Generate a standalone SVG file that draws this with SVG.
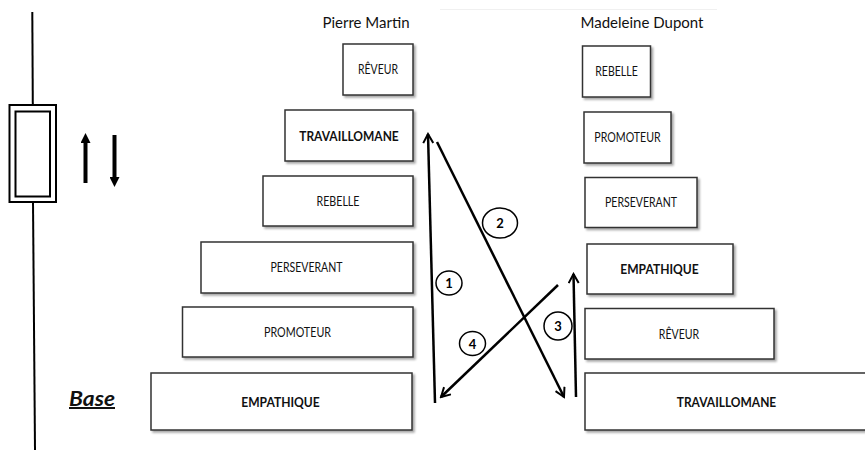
<svg xmlns="http://www.w3.org/2000/svg" width="865" height="450" viewBox="0 0 865 450">
  <defs>
    <filter id="sh" x="-10%" y="-10%" width="130%" height="140%">
      <feDropShadow dx="2" dy="2" stdDeviation="1.2" flood-color="#000" flood-opacity="0.35"/>
    </filter>
    <marker id="ah" viewBox="0 0 12 12" refX="10" refY="6" markerWidth="12" markerHeight="12" markerUnits="userSpaceOnUse" orient="auto">
      <path d="M1,1 L10,6 L1,11" fill="none" stroke="#000" stroke-width="2"/>
    </marker>
    <marker id="bh" viewBox="0 0 10 10" refX="5" refY="5" markerWidth="10" markerHeight="10" markerUnits="userSpaceOnUse" orient="auto">
      <path d="M0,0 L10,5 L0,10 Z" fill="#000"/>
    </marker>
  </defs>
  <style>
    .box { fill: #fff; stroke: #333; stroke-width: 1.5; filter: url(#sh); }
    .lbl { font-family: Lato, "Liberation Sans", sans-serif; font-size: 12.5px; fill: #111; text-anchor: middle; dominant-baseline: central; }
    .b { font-weight: bold; font-size: 13px; }
    .name { font-family: Lato, "Liberation Sans", sans-serif; font-size: 15px; fill: #111; text-anchor: middle; }
    .con { stroke: #000; stroke-width: 2.5; fill: none; marker-end: url(#ah); }
    .circ { fill: #fff; stroke: #000; stroke-width: 1.5; }
    .num { font-family: Lato, "Liberation Sans", sans-serif; font-size: 13px; font-weight: bold; fill: #000; text-anchor: middle; dominant-baseline: central; }
  </style>
  <rect width="865" height="450" fill="#fff"/>
  <line x1="440" y1="9.5" x2="717" y2="9.5" stroke="#f0f0f0" stroke-width="1"/>

  <g id="scale">
    <line x1="32.3" y1="12" x2="32.8" y2="105" stroke="#000" stroke-width="2"/>
    <line x1="33" y1="202" x2="35" y2="450" stroke="#000" stroke-width="2"/>
    <rect x="9.5" y="105" width="46.5" height="97" fill="#fff" stroke="#000" stroke-width="2"/>
    <rect x="15.5" y="111.5" width="34.5" height="85" fill="#fff" stroke="#000" stroke-width="2"/>
    <line x1="85.5" y1="183" x2="85.5" y2="138" stroke="#000" stroke-width="4" marker-end="url(#bh)"/>
    <line x1="114.5" y1="135" x2="114.5" y2="182" stroke="#000" stroke-width="4" marker-end="url(#bh)"/>
  </g>
  <g id="base-label">
    <text x="69" y="406" font-family="Lato, 'Liberation Sans', sans-serif" font-size="20" font-weight="bold" font-style="italic" text-decoration="underline" fill="#111" textLength="46" lengthAdjust="spacingAndGlyphs">Base</text>
  </g>

  <g id="pierre-title"><text class="name" x="366" y="28">Pierre Martin</text></g>
  <g id="madeleine-title"><text class="name" x="642" y="28">Madeleine Dupont</text></g>

  <g id="pm-reveur"><rect class="box" x="343" y="44" width="70" height="51"/><text class="lbl" x="378" y="69.5" textLength="40" lengthAdjust="spacingAndGlyphs">RÊVEUR</text></g>
  <g id="pm-travaillomane"><rect class="box" x="285" y="110" width="128" height="51"/><text class="lbl b" x="349" y="135.5" textLength="99.5" lengthAdjust="spacingAndGlyphs">TRAVAILLOMANE</text></g>
  <g id="pm-rebelle"><rect class="box" x="263" y="176" width="150" height="50"/><text class="lbl" x="338" y="201" textLength="43" lengthAdjust="spacingAndGlyphs">REBELLE</text></g>
  <g id="pm-perseverant"><rect class="box" x="201" y="242" width="212" height="51"/><text class="lbl" x="306.5" y="267.5" textLength="72" lengthAdjust="spacingAndGlyphs">PERSEVERANT</text></g>
  <g id="pm-promoteur"><rect class="box" x="182.5" y="307" width="230.5" height="50"/><text class="lbl" x="297.5" y="332" textLength="67" lengthAdjust="spacingAndGlyphs">PROMOTEUR</text></g>
  <g id="pm-empathique"><rect class="box" x="151" y="373" width="261" height="57"/><text class="lbl b" x="280.5" y="401.5" textLength="78.5" lengthAdjust="spacingAndGlyphs">EMPATHIQUE</text></g>

  <g id="md-rebelle"><rect class="box" x="582.5" y="46" width="68" height="51"/><text class="lbl" x="616.5" y="71.5" textLength="42.5" lengthAdjust="spacingAndGlyphs">REBELLE</text></g>
  <g id="md-promoteur"><rect class="box" x="584" y="112" width="87" height="51"/><text class="lbl" x="627.5" y="137.5" textLength="66.5" lengthAdjust="spacingAndGlyphs">PROMOTEUR</text></g>
  <g id="md-perseverant"><rect class="box" x="585" y="177.5" width="112" height="50"/><text class="lbl" x="641" y="202.5" textLength="72" lengthAdjust="spacingAndGlyphs">PERSEVERANT</text></g>
  <g id="md-empathique"><rect class="box" x="587" y="244" width="146" height="50"/><text class="lbl b" x="659.5" y="269" textLength="78.5" lengthAdjust="spacingAndGlyphs">EMPATHIQUE</text></g>
  <g id="md-reveur"><rect class="box" x="585" y="308.5" width="189" height="50.5"/><text class="lbl" x="679" y="334" textLength="40.5" lengthAdjust="spacingAndGlyphs">RÊVEUR</text></g>
  <g id="md-travaillomane"><rect class="box" x="585" y="373" width="283" height="57"/><text class="lbl b" x="726.5" y="401.5" textLength="99.5" lengthAdjust="spacingAndGlyphs">TRAVAILLOMANE</text></g>

  <g id="connectors">
    <line class="con" x1="435" y1="403" x2="428" y2="134"/>
    <line class="con" x1="437" y1="142" x2="564" y2="397"/>
    <line class="con" x1="576" y1="397" x2="573.5" y2="274"/>
    <line class="con" x1="558" y1="285" x2="441" y2="397"/>
  </g>
  <g id="step-labels">
    <g id="s1"><ellipse class="circ" cx="449" cy="283" rx="13" ry="12"/><text class="num" x="449" y="283">1</text></g>
    <g id="s2"><ellipse class="circ" cx="500" cy="223" rx="17.5" ry="15"/><text class="num" x="500" y="223">2</text></g>
    <g id="s3"><ellipse class="circ" cx="558" cy="326" rx="14" ry="14"/><text class="num" x="558" y="326">3</text></g>
    <g id="s4"><ellipse class="circ" cx="472.5" cy="343.5" rx="13" ry="12"/><text class="num" x="472.5" y="343.5">4</text></g>
  </g>
</svg>
